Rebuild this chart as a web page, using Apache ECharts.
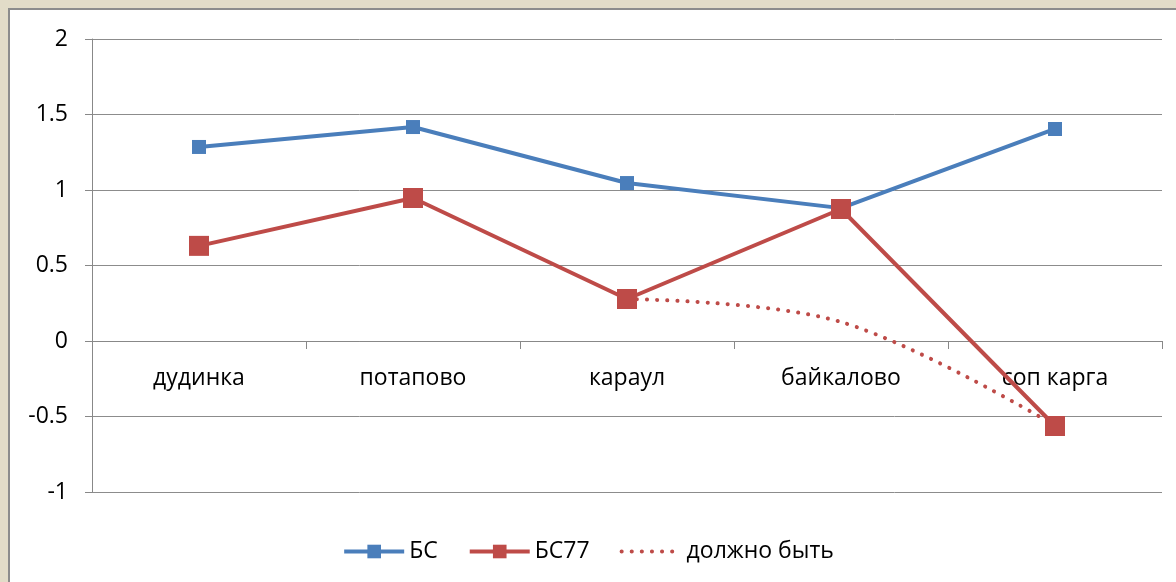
<!DOCTYPE html>
<html>
<head>
<meta charset="utf-8">
<script src="https://cdn.jsdelivr.net/npm/echarts@6/dist/echarts.min.js"></script>
<style>
  html, body { margin: 0; padding: 0; background: #e2dcc8; }
  #chart { width: 1176px; height: 582px; }
</style>
</head>
<body>
<div id="chart"></div>
<script>
// категории (станции)
const categories = ['дудинка', 'потапово', 'караул', 'байкалово', 'соп карга']
const bsValues   = [1.285, 1.417, 1.046, 0.88, 1.404]
const bs77Values = [0.63, 0.947, 0.278, 0.874, -0.563]
const mustValues = [null, null, 0.278, 0.126, -0.56]

const blue = '#4a7ebb'
const red  = '#be4b48'
const font = 'Open Sans'

const chart = echarts.init(document.getElementById('chart'))
chart.setOption({
  backgroundColor: '#e2dcc8',
  animation: false,
  textStyle: { fontFamily: font },
  graphic: [{
    type: 'rect',
    z: -10,
    shape: { x: 9, y: 9, width: 1180, height: 590 },
    style: { fill: '#ffffff', stroke: '#8c8c8c', lineWidth: 2 },
  }],
  grid: { left: 92, right: 14, top: 39, bottom: 90, containLabel: false },
  legend: {
    top: 535,
    left: 'center',
    itemGap: 30,
    itemWidth: 60,
    itemHeight: 17,
    lineStyle: { width: 4 },
    textStyle: { fontFamily: font, fontSize: 23, color: '#000' },
    data: [
      'БС',
      'БС77',
      { name: 'должно быть', itemStyle: { opacity: 0 } },
    ],
  },
  xAxis: {
    type: 'category',
    data: categories,
    axisLine: { onZero: true, lineStyle: { color: '#888', width: 1 } },
    axisTick: { show: true, length: 8, inside: false, lineStyle: { color: '#888' } },
    axisLabel: { color: '#000', fontSize: 23, margin: -125, fontFamily: font },
  },
  yAxis: {
    type: 'value',
    min: -1,
    max: 2,
    interval: 0.5,
    axisLine: { show: true, lineStyle: { color: '#888' } },
    axisTick: { show: true, length: 7, lineStyle: { color: '#888' } },
    axisLabel: { color: '#000', fontSize: 23, margin: 24, fontFamily: font },
    splitLine: { lineStyle: { color: '#8c8c8c', width: 1 } },
  },
  series: [
    {
      name: 'БС',
      type: 'line',
      data: bsValues,
      symbol: 'rect',
      symbolSize: 14,
      lineStyle: { color: blue, width: 4 },
      itemStyle: { color: blue },
      z: 3,
    },
    {
      name: 'БС77',
      type: 'line',
      data: bs77Values,
      symbol: 'rect',
      symbolSize: 20,
      lineStyle: { color: red, width: 4 },
      itemStyle: { color: red },
      z: 4,
    },
    {
      name: 'должно быть',
      type: 'line',
      data: mustValues,
      smooth: 0.35,
      symbol: 'none',
      connectNulls: false,
      lineStyle: { color: red, width: 4, type: [0.1, 10], cap: 'round' },
      itemStyle: { color: red },
      z: 2,
    },
  ],
})
</script>
</body>
</html>
